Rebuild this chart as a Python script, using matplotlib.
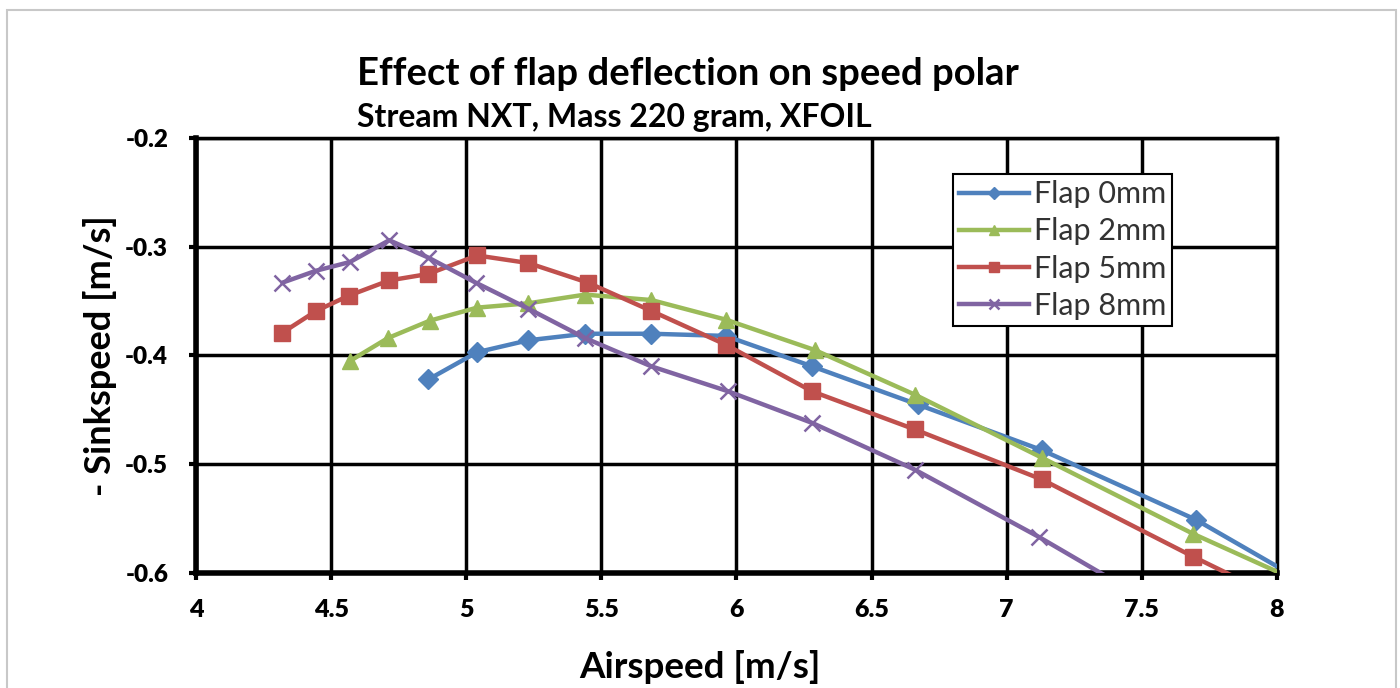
import matplotlib

matplotlib.use("Agg")
import matplotlib.pyplot as plt
from matplotlib.patches import Rectangle

plt.rcParams["font.family"] = ["Lato", "DejaVu Sans"]
plt.rcParams["font.weight"] = "bold"

# speed polar points (last point of each series lies past the axes)
flap0_v = [4.86, 5.04, 5.23, 5.44, 5.685, 5.96, 6.28, 6.67, 7.13, 7.70, 8.35]
flap0_w = [-0.422, -0.397, -0.386, -0.380, -0.380, -0.382, -0.410, -0.445, -0.487, -0.551, -0.644]

flap2_v = [4.57, 4.71, 4.865, 5.04, 5.23, 5.44, 5.685, 5.96, 6.29, 6.66, 7.13, 7.69, 8.35]
flap2_w = [-0.405, -0.384, -0.368, -0.356, -0.352, -0.344, -0.349, -0.367, -0.395, -0.436, -0.494, -0.564, -0.638]

flap5_v = [4.32, 4.445, 4.565, 4.715, 4.86, 5.04, 5.23, 5.45, 5.685, 5.96, 6.28, 6.66, 7.13, 7.69, 8.35]
flap5_w = [-0.379, -0.359, -0.345, -0.331, -0.325, -0.308, -0.315, -0.333, -0.359, -0.390, -0.433, -0.468, -0.514, -0.585, -0.665]

flap8_v = [4.32, 4.445, 4.57, 4.715, 4.86, 5.035, 5.23, 5.44, 5.685, 5.97, 6.28, 6.66, 7.12, 7.72]
flap8_w = [-0.333, -0.322, -0.314, -0.294, -0.310, -0.333, -0.357, -0.384, -0.410, -0.433, -0.462, -0.505, -0.567, -0.654]

series = [
    ("Flap 0mm", flap0_v, flap0_w, "#4F81BD", "D", 10),
    ("Flap 2mm", flap2_v, flap2_w, "#9BBB59", "^", 12),
    ("Flap 5mm", flap5_v, flap5_w, "#C0504D", "s", 12),
    ("Flap 8mm", flap8_v, flap8_w, "#8064A2", "x", 12),
]

x_ticks = [4, 4.5, 5, 5.5, 6, 6.5, 7, 7.5, 8]
y_ticks = [-0.6, -0.5, -0.4, -0.3, -0.2]

fig = plt.figure(figsize=(14, 6.88), dpi=100)
fig.patches.append(Rectangle((0.005, -0.05), 0.992, 1.035, transform=fig.transFigure,
                             fill=False, edgecolor="#c8c8c8", linewidth=1.5))

ax = fig.add_axes([0.14, 0.1672, 0.7721, 0.6322])

for label, v, w, color, marker, ms in series:
    ax.plot(v, w, color=color, linewidth=3.2, marker=marker, markersize=ms,
            markeredgewidth=1.8 if marker == "x" else 1, markeredgecolor=color,
            label=label, clip_on=True, zorder=3)

ax.set_xlim(4, 8)
ax.set_ylim(-0.6, -0.2)
ax.set_xticks(x_ticks)
ax.set_xticklabels([f"{t:g}" for t in x_ticks])
ax.set_yticks(y_ticks)
ax.set_yticklabels([f"{t:g}" for t in y_ticks])
ax.grid(True, color="black", linewidth=2.5, zorder=1)
ax.set_axisbelow(True)

for side in ["top", "right"]:
    ax.spines[side].set_linewidth(2.5)
for side in ["left", "bottom"]:
    ax.spines[side].set_linewidth(4)
ax.tick_params(axis="both", direction="out", length=5, width=3)
ax.tick_params(axis="x", labelsize=18, pad=14)
ax.tick_params(axis="y", labelsize=17.5, pad=15)
for lbl in ax.get_xticklabels() + ax.get_yticklabels():
    lbl.set_fontweight("heavy")

ax.set_xlabel("Airspeed [m/s]", fontsize=26.5, fontweight="bold")
ax.xaxis.set_label_coords(0.466, -0.178)
ax.set_ylabel("- Sinkspeed [m/s]", fontsize=26, fontweight="bold")
ax.yaxis.set_label_coords(-0.073, 0.5)

fig.text(0.255, 0.892, "Effect of flap deflection on speed polar", fontsize=27.5,
         fontweight="bold", va="center", ha="left")
fig.text(0.255, 0.829, "Stream NXT, Mass 220 gram, XFOIL", fontsize=23,
         fontweight="bold", va="center", ha="left")

leg = ax.legend(loc="upper left", bbox_to_anchor=(0.700, 0.917), borderaxespad=0,
                fontsize=22, frameon=True, fancybox=False, edgecolor="black",
                framealpha=1, handlelength=2.3, handletextpad=0.15,
                labelspacing=0.3, borderpad=0.2, markerscale=0.6)
leg.get_frame().set_linewidth(1.5)
for t in leg.get_texts():
    t.set_fontweight("normal")
    t.set_color("#333333")

fig.savefig("out.png", dpi=100)
